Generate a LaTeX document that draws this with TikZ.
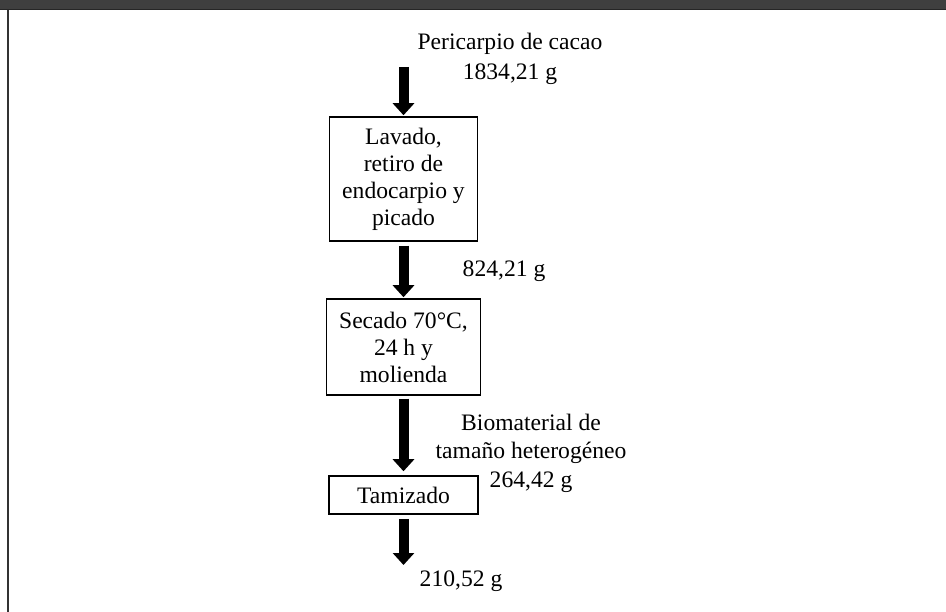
\documentclass[tikz,border=0pt]{standalone}
\usepackage{fontspec}
\setmainfont{Liberation Serif}
\usetikzlibrary{arrows.meta}
\definecolor{hdr}{HTML}{3F3F3F}
\definecolor{hdrline}{HTML}{262626}
\definecolor{bord}{HTML}{333333}
\tikzset{
  procbox/.style={draw=black, line width=1.5pt, inner sep=0pt, align=center,
    font=\fontsize{23.6}{27}\selectfont},
  lbl/.style={inner sep=0pt, align=center, font=\fontsize{23.6}{28.5}\selectfont},
  flow/.style={draw=black, line width=10pt, -{Triangle[width=21pt,length=12pt]}}
}
\begin{document}
\begin{tikzpicture}[x=1pt,y=-1pt]
\useasboundingbox (0,0) rectangle (946,612);
\fill[white] (0,0) rectangle (946,612);
% header bar and left frame
\fill[hdr] (0,0) rectangle (946,9);
\fill[hdrline] (0,9) rectangle (946,10.5);
\fill[bord] (7.3,10.5) rectangle (9.3,612);

% process boxes
\node[procbox, minimum width=148pt, minimum height=124pt] (b1) at (403.5,179)
  {Lavado,\\retiro de\\endocarpio y\\picado};
\node[procbox, minimum width=154pt, minimum height=96pt] (b2) at (403.5,347)
  {Secado 70°C,\\24 h y\\molienda};
\node[procbox, minimum width=149pt, minimum height=38pt] (b3) at (403.5,495)
  {Tamizado};

% labels
\node[lbl, font=\fontsize{23.6}{30}\selectfont] (l0) at (510,59) {Pericarpio de cacao\\1834,21 g};
\node[lbl] (l1) at (504,271) {824,21 g};
\node[lbl] (l2) at (531,453) {Biomaterial de\\tamaño heterogéneo\\264,42 g};
\node[lbl] (l3) at (461,581) {210,52 g};

% free ends
\coordinate (s0) at (403.5,67);
\coordinate (e4) at (403.5,565);

% arrows
\draw[flow, shorten >=1pt] (s0) -- (b1.north);
\draw[flow, shorten <=4pt, shorten >=1pt] (b1.south) -- (b2.north);
\draw[flow, shorten <=3pt, shorten >=4pt] (b2.south) -- (b3.north);
\draw[flow, shorten <=4pt] (b3.south) -- (e4);
\end{tikzpicture}
\end{document}
